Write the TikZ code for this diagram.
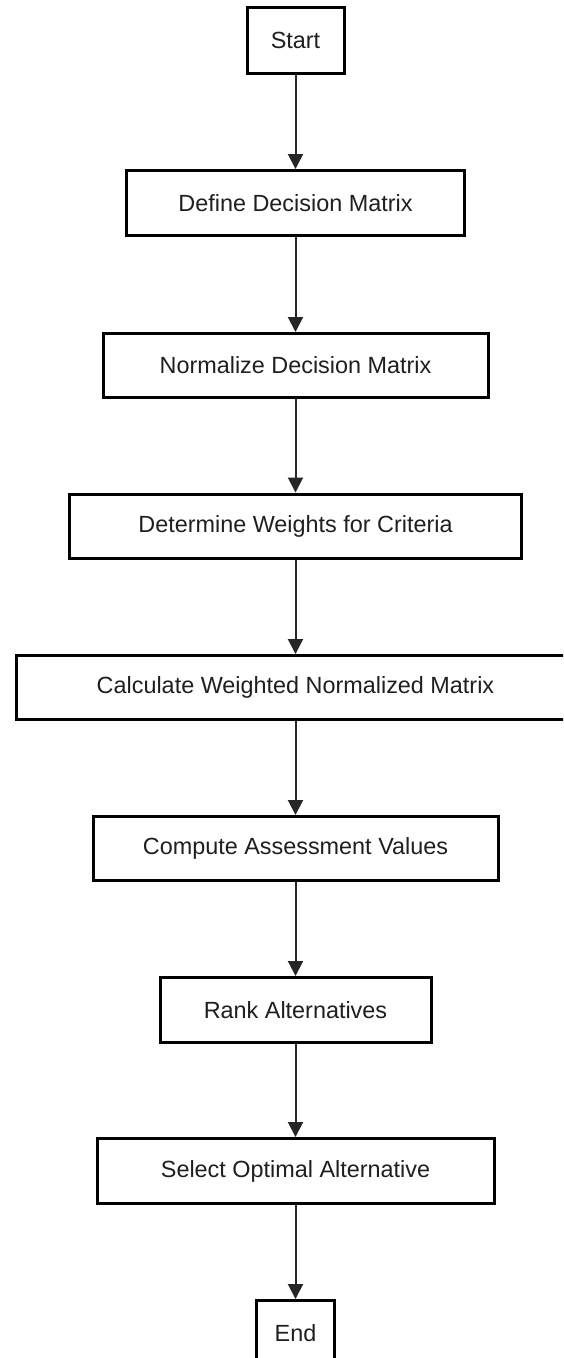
\documentclass[tikz,border=0pt]{standalone}
\usepackage{fontspec}
\setmainfont{Liberation Sans}
\usetikzlibrary{arrows.meta}
\tikzset{
  stepbox/.style={draw=black, line width=3pt, fill=white, inner sep=0pt,
    text=black!88, font=\fontsize{23.4}{28}\selectfont},
  flow/.style={draw=black!85, line width=2pt,
    -{Triangle[length=15pt,width=15pt]}}
}
\begin{document}
\begin{tikzpicture}[x=1pt,y=1pt]
\useasboundingbox (0,0) rectangle (563,-1358);
\clip (0,0) rectangle (563,-1358);
\fill[white] (0,0) rectangle (563,-1358);
\node[stepbox, minimum width=97pt, minimum height=66pt] (start) at (295.5,-40.5) {Start};
\node[stepbox, minimum width=338pt, minimum height=65pt] (define) at (295.5,-203) {Define Decision Matrix};
\node[stepbox, minimum width=385pt, minimum height=64pt] (norm) at (295.5,-365.5) {Normalize Decision Matrix};
\node[stepbox, minimum width=452pt, minimum height=64pt] (weights) at (295.5,-526) {Determine Weights for Criteria};
\node[stepbox, minimum width=559pt, minimum height=64pt] (calc) at (295.5,-687.5) {Calculate Weighted Normalized Matrix};
\node[stepbox, minimum width=405pt, minimum height=64pt] (assess) at (295.5,-848.5) {Compute Assessment Values};
\node[stepbox, minimum width=271pt, minimum height=65pt] (rank) at (295.5,-1010) {Rank Alternatives};
\node[stepbox, minimum width=397pt, minimum height=65pt] (select) at (295.5,-1171) {Select Optimal Alternative};
\node[stepbox, minimum width=78pt, minimum height=66pt] (end) at (295.5,-1333.5) {End};
\draw[flow] (start.south) -- (define.north);
\draw[flow] (define.south) -- (norm.north);
\draw[flow] (norm.south) -- (weights.north);
\draw[flow] (weights.south) -- (calc.north);
\draw[flow] (calc.south) -- (assess.north);
\draw[flow] (assess.south) -- (rank.north);
\draw[flow] (rank.south) -- (select.north);
\draw[flow] (select.south) -- (end.north);
\end{tikzpicture}
\end{document}
